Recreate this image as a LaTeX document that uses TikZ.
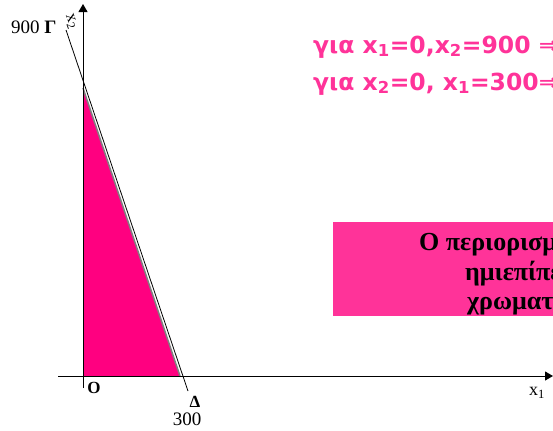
\documentclass[tikz,border=0pt]{standalone}
\usepackage{fontspec}
\setmainfont{Liberation Serif}
\newfontfamily\notefont{DejaVu Sans}
\usetikzlibrary{arrows.meta}
\definecolor{notepink}{HTML}{FF3399}
\definecolor{regionpink}{HTML}{FF0080}
\newcommand{\fs}[1]{\fontsize{#1bp}{1.2\dimexpr#1bp\relax}\selectfont}

\begin{document}
\begin{tikzpicture}[x=1bp, y=-1bp, every node/.style={inner sep=0pt},
	axis/.style={line width=1bp, -{Triangle[length=8bp,width=9bp]}},
	note/.style={anchor=base west, text=notepink, font=\notefont\bfseries\fs{23.5}},
	boxtext/.style={anchor=base west, font=\bfseries\fs{26}}]
	\useasboundingbox (0,0) rectangle (553,430);
	\clip (0,0) rectangle (553,430);
	\coordinate (O) at (83,376);
	\coordinate (G) at (83,88);
	\coordinate (D) at (180,376);
	\coordinate (ltop) at (66,30);
	\coordinate (lbot) at (188,391);
	% feasible region
	\fill[regionpink] (O) -- (G) -- (D) -- cycle;
	\draw[line width=0.8bp] (ltop) -- (lbot);
	\draw[gray, line width=1.5bp] (G) -- (D);
	% axes
	\draw[axis] (83,388) -- (83,4) coordinate (yend);
	\draw[axis] (58,376) -- (553,376) coordinate (xend);
	\node[anchor=base west, font=\fs{19}] (Glab) at (11,33) {900 \textbf{Γ}};
	\node[rotate=-70, font=\fs{17}] (ylab) at (71,22) {x\textsubscript{2}};
	\node[font=\fs{18}] (xlab) at (537,393) {x\textsubscript{1}};
	\node[font=\bfseries\fs{17}] (Olab) at (94,388) {O};
	\node[font=\bfseries\fs{17}] (Dlab) at (195,402) {Δ};
	\node[font=\fs{19}] (Dval) at (187,419) {300};
	% pink notes
	\node[note] (note1) at (313,53) {για x\textsubscript{1}=0,x\textsubscript{2}=900 ⇒};
	\node[note] (note2) at (313,90) {για x\textsubscript{2}=0, x\textsubscript{1}=300⇒};
	\fill[notepink] (333,222) rectangle (560,316);
	\node[boxtext] (line1) at (419,250) {Ο περιορισμός};
	\node[boxtext] (line2) at (465,280) {ημιεπίπεδο};
	\node[boxtext] (line3) at (467,309) {χρωματισμένο};
\end{tikzpicture}
\end{document}
